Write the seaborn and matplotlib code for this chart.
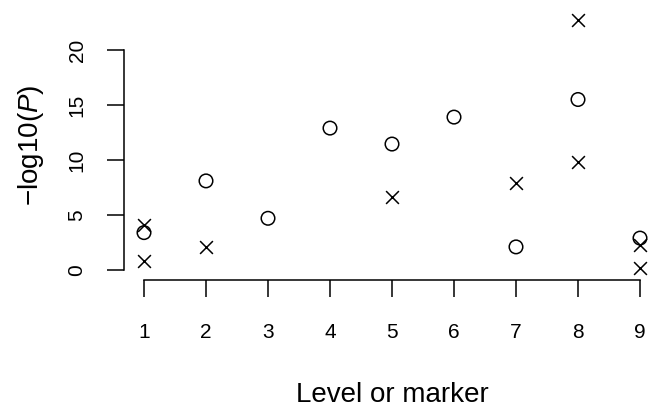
import matplotlib
matplotlib.use("Agg")
import matplotlib.pyplot as plt
import seaborn as sns
import pandas as pd

# ---- data ----
circle_level = [1, 2, 3, 4, 5, 6, 7, 8, 9]
circle_value = [3.4, 8.1, 4.7, 12.9, 11.45, 13.9, 2.1, 15.5, 2.9]
cross_level = [1, 1, 2, 5, 7, 8, 8, 9, 9]
cross_value = [4.1, 0.8, 2.1, 6.6, 7.9, 22.7, 9.8, 2.3, 0.2]
x_ticks = [1, 2, 3, 4, 5, 6, 7, 8, 9]
y_ticks = [0, 5, 10, 15, 20]

df = pd.DataFrame({
    "level": circle_level + cross_level,
    "value": circle_value + cross_value,
    "kind": ["circle"] * len(circle_level) + ["cross"] * len(cross_level),
})

sns.set_theme(style="white")
plt.rcParams["font.family"] = ["Liberation Sans", "DejaVu Sans"]
plt.rcParams["mathtext.fontset"] = "custom"
plt.rcParams["mathtext.rm"] = "Liberation Sans"
plt.rcParams["mathtext.it"] = "Liberation Sans:italic"

fig = plt.figure(figsize=(6.55, 4.08), dpi=100)
W, H = 655, 408
left_px, right_px, top_px, bottom_px = 124, 655, 10, 280
ax = fig.add_axes([left_px / W, (H - bottom_px) / H,
                   (right_px - left_px) / W, (bottom_px - top_px) / H])
ax.set_facecolor("white")

sub_c = df[df.kind == "circle"]
sub_x = df[df.kind == "cross"]
sns.scatterplot(data=sub_c, x="level", y="value", marker="o", s=95,
                facecolors="none", edgecolor="black", linewidth=1.1,
                ax=ax, legend=False, clip_on=False)
sns.scatterplot(data=sub_x, x="level", y="value", marker="x", s=85,
                color="black", linewidth=1.1, ax=ax, legend=False, clip_on=False)

ax.set_xlim(1 - 20 / 62, 1 - 20 / 62 + (right_px - left_px) / 62)
ax.set_ylim(-(bottom_px - 270) / 11, (270 - top_px) / 11)

for s in ["top", "right"]:
    ax.spines[s].set_visible(False)
for s in ["left", "bottom"]:
    ax.spines[s].set_color("black")
    ax.spines[s].set_linewidth(1.1)
ax.spines["left"].set_bounds(0, 20)
ax.spines["bottom"].set_bounds(1, 9)

ax.set_xticks(x_ticks, labels=[str(v) for v in x_ticks])
ax.set_yticks(y_ticks, labels=[str(v) for v in y_ticks], rotation=90, va="center")
ax.tick_params(axis="both", direction="out", length=12, width=1.1, color="black",
               labelsize=15, labelcolor="black")
ax.tick_params(axis="x", pad=19, bottom=True)
ax.tick_params(axis="y", pad=15, left=True)

ax.set_xlabel("Level or marker", fontsize=20, color="black")
ax.xaxis.set_label_coords((392 - left_px) / (right_px - left_px),
                          (bottom_px - 402) / (bottom_px - top_px))
ax.xaxis.label.set_va("baseline")
ax.set_ylabel("\u2212log10($\\mathit{P}$)", fontsize=20, color="black")
ax.yaxis.set_label_coords((31 - left_px) / (right_px - left_px), 0.5)
ax.yaxis.label.set_va("center")

fig.savefig("out.png", dpi=100, facecolor="white")
